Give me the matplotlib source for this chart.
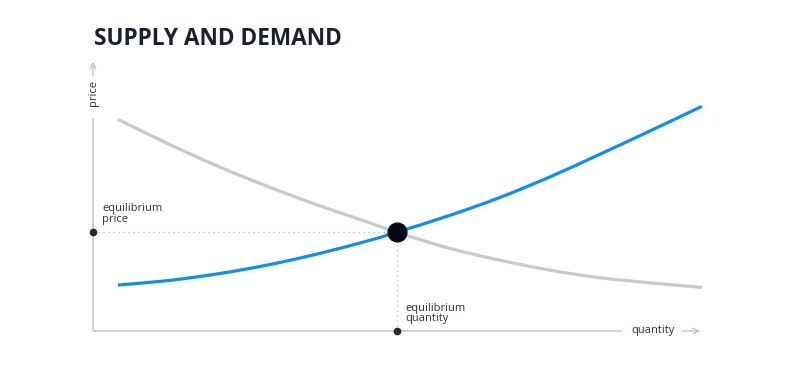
import matplotlib
matplotlib.use("Agg")
import matplotlib.pyplot as plt
from matplotlib.path import Path
from matplotlib.patches import PathPatch

# Data
quantity = [4.1, 12.2, 20.4, 28.7, 36.9, 45.1, 50.0, 58.8, 67.1, 75.3, 83.5, 91.8, 100.3]
demand = [78.7, 69.8, 61.4, 53.8, 46.9, 40.6, 36.7, 30.7, 26.3, 22.6, 19.8, 17.9, 16.2]
supply = [17.1, 18.7, 21.2, 24.5, 28.6, 33.4, 36.7, 43.0, 49.7, 57.3, 65.7, 74.4, 83.5]
eq_q, eq_p = 50.0, 36.7
title = "SUPPLY AND DEMAND"

plt.rcParams['font.family'] = ['Open Sans', 'DejaVu Sans']

W, H = 800, 372
fig = plt.figure(figsize=(W / 100, H / 100), dpi=100)
ax = fig.add_axes([93 / W, (H - 331) / H, 607 / W, 269 / H])
ax.set_xlim(0, 100)
ax.set_ylim(0, 100)
ax.axis('off')

axis_col = '#cfcfcf'
text_col = '#2b333c'


def smooth_path(xs, ys):
    """Bezier path passing through every data point (Catmull-Rom tangents)."""
    pts = list(zip(xs, ys))
    n = len(pts)
    verts = [pts[0]]
    codes = [Path.MOVETO]
    for i in range(n - 1):
        p0 = pts[i - 1] if i > 0 else pts[i]
        p1 = pts[i]
        p2 = pts[i + 1]
        p3 = pts[i + 2] if i + 2 < n else pts[i + 1]
        c1 = (p1[0] + (p2[0] - p0[0]) / 6, p1[1] + (p2[1] - p0[1]) / 6)
        c2 = (p2[0] - (p3[0] - p1[0]) / 6, p2[1] - (p3[1] - p1[1]) / 6)
        verts += [c1, c2, p2]
        codes += [Path.CURVE4] * 3
    return Path(verts, codes)


# axis lines
ax.plot([0, 0], [0, 79.2], color=axis_col, lw=1.4, clip_on=False, solid_capstyle='butt')
ax.plot([0, 87.1], [0, 0], color=axis_col, lw=1.4, clip_on=False, solid_capstyle='butt')
ax.annotate('', xy=(0, 100), xytext=(0, 94.8),
            arrowprops=dict(arrowstyle='->', color='#bdbdbd', lw=0.9, shrinkA=0, shrinkB=0),
            annotation_clip=False)
ax.annotate('', xy=(100, 0), xytext=(97, 0),
            arrowprops=dict(arrowstyle='->', color='#bdbdbd', lw=0.9, shrinkA=0, shrinkB=0),
            annotation_clip=False)
ax.text(0, 88.5, 'price', rotation=90, ha='center', va='center', fontsize=8, color=text_col, clip_on=False)
ax.text(92.2, 0, 'quantity', ha='center', va='center', fontsize=8, color=text_col, clip_on=False)

# curves
ax.add_patch(PathPatch(smooth_path(quantity, demand), facecolor='none', edgecolor='#c9c9c9',
                       lw=2.3, capstyle='butt', clip_on=False))
ax.add_patch(PathPatch(smooth_path(quantity, supply), facecolor='none', edgecolor='#0d8ff2',
                       lw=2.3, capstyle='butt', clip_on=False))

# guide lines
ax.plot([0, eq_q], [eq_p, eq_p], color='#b5b5b5', lw=0.9, ls=(0, (1, 3)), clip_on=False)
ax.plot([eq_q, eq_q], [0, eq_p], color='#b5b5b5', lw=0.9, ls=(0, (1, 3)), clip_on=False)

# points
ax.plot([eq_q], [eq_p], 'o', color='#030a16', ms=13.5, clip_on=False, zorder=5)
ax.plot([0, eq_q], [eq_p, 0], 'o', color='#1f2833', ms=4.5, clip_on=False, zorder=5)

# labels
ax.text(1.5, eq_p + 2.8, 'equilibrium\nprice', ha='left', va='bottom', fontsize=8,
        color=text_col, linespacing=0.95)
ax.text(51.5, 2.5, 'equilibrium\nquantity', ha='left', va='bottom', fontsize=8,
        color=text_col, linespacing=0.95)

fig.text(94 / W, 1 - 45 / H, title, ha='left', va='baseline', fontsize=16.3,
         fontweight='bold', color='#17222d')

fig.savefig('out.png', dpi=100)
